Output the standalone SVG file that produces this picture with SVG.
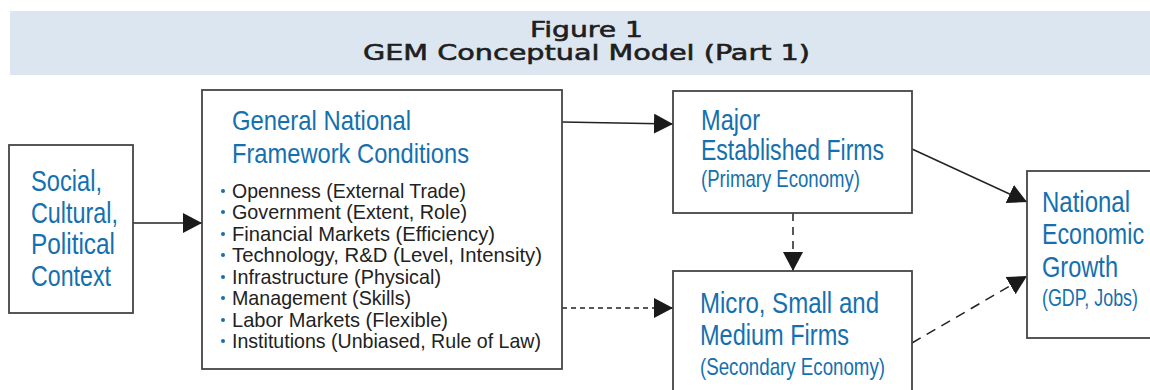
<svg xmlns="http://www.w3.org/2000/svg" width="1150" height="390" viewBox="0 0 1150 390">
<defs>
<style>
.box{fill:#fff;stroke:#454545;stroke-width:1.8}
.t{font-family:"Liberation Sans",Arial,sans-serif;fill:#1570ae}
.big{font-size:30px}
.mid{font-size:28px}
.sub{font-size:24px}
.li{font-family:"Liberation Sans",Arial,sans-serif;font-size:21px;fill:#222}
.dot{fill:#1570ae}
.title{font-family:"DejaVu Sans",sans-serif;font-size:22px;fill:#1e1e1e;stroke:#1e1e1e;stroke-width:0.6}
.c{fill:none;stroke:#222;stroke-width:1.5}
</style>
<marker id="ah" markerUnits="userSpaceOnUse" markerWidth="20" markerHeight="20" refX="19" refY="10" orient="auto" viewBox="0 0 20 20">
<path d="M0,0 L19,10 L0,20 z" fill="#1a1a1a"/>
</marker>
</defs>
<rect x="10" y="11" width="1140" height="64" fill="#dce6f0"/>
<g id="title">
<text class="title" x="530" y="37" textLength="113" lengthAdjust="spacingAndGlyphs">Figure 1</text>
<text class="title" x="363" y="60" textLength="447" lengthAdjust="spacingAndGlyphs">GEM Conceptual Model (Part 1)</text>
</g>
<g id="connectors">
<line class="c" x1="133" y1="223" x2="202" y2="223" marker-end="url(#ah)"/>
<line class="c" x1="562" y1="122" x2="673" y2="124" marker-end="url(#ah)"/>
<line class="c" x1="562" y1="308" x2="673" y2="308" stroke-dasharray="5,4" marker-end="url(#ah)"/>
<line class="c" x1="793" y1="213" x2="793" y2="271" stroke-dasharray="8,6" marker-end="url(#ah)"/>
<line class="c" x1="912" y1="149" x2="1027" y2="202" marker-end="url(#ah)"/>
<line class="c" x1="912" y1="343" x2="1027" y2="276" stroke-dasharray="10,7" marker-end="url(#ah)"/>
</g>
<g id="social">
<rect class="box" x="9" y="145" width="124" height="168"/>
<text class="t big" x="31" y="191" textLength="71" lengthAdjust="spacingAndGlyphs">Social,</text>
<text class="t big" x="31" y="223" textLength="87" lengthAdjust="spacingAndGlyphs">Cultural,</text>
<text class="t big" x="31" y="254" textLength="84" lengthAdjust="spacingAndGlyphs">Political</text>
<text class="t big" x="31" y="286" textLength="80" lengthAdjust="spacingAndGlyphs">Context</text>
</g>
<g id="framework">
<rect class="box" x="202" y="90" width="360" height="279"/>
<text class="t mid" x="232" y="130" textLength="179" lengthAdjust="spacingAndGlyphs">General National</text>
<text class="t mid" x="232" y="163" textLength="237" lengthAdjust="spacingAndGlyphs">Framework Conditions</text>
<g class="dot">
<circle cx="223" cy="191" r="2"/>
<circle cx="223" cy="212" r="2"/>
<circle cx="223" cy="234" r="2"/>
<circle cx="223" cy="255" r="2"/>
<circle cx="223" cy="277" r="2"/>
<circle cx="223" cy="298" r="2"/>
<circle cx="223" cy="320" r="2"/>
<circle cx="223" cy="341" r="2"/>
</g>
<text class="li" x="232" y="198" textLength="234" lengthAdjust="spacingAndGlyphs">Openness (External Trade)</text>
<text class="li" x="232" y="219" textLength="235" lengthAdjust="spacingAndGlyphs">Government (Extent, Role)</text>
<text class="li" x="232" y="241" textLength="263" lengthAdjust="spacingAndGlyphs">Financial Markets (Efficiency)</text>
<text class="li" x="232" y="262" textLength="310" lengthAdjust="spacingAndGlyphs">Technology, R&amp;D (Level, Intensity)</text>
<text class="li" x="232" y="284" textLength="209" lengthAdjust="spacingAndGlyphs">Infrastructure (Physical)</text>
<text class="li" x="232" y="305" textLength="179" lengthAdjust="spacingAndGlyphs">Management (Skills)</text>
<text class="li" x="232" y="327" textLength="216" lengthAdjust="spacingAndGlyphs">Labor Markets (Flexible)</text>
<text class="li" x="232" y="348" textLength="309" lengthAdjust="spacingAndGlyphs">Institutions (Unbiased, Rule of Law)</text>
</g>
<g id="major">
<rect class="box" x="673" y="91" width="239" height="122"/>
<text class="t big" x="701" y="130" textLength="59" lengthAdjust="spacingAndGlyphs">Major</text>
<text class="t big" x="701" y="160" textLength="183" lengthAdjust="spacingAndGlyphs">Established Firms</text>
<text class="t sub" x="701" y="187" textLength="159" lengthAdjust="spacingAndGlyphs">(Primary Economy)</text>
</g>
<g id="micro">
<rect class="box" x="673" y="271" width="239" height="130"/>
<text class="t big" x="700" y="313" textLength="179" lengthAdjust="spacingAndGlyphs">Micro, Small and</text>
<text class="t big" x="700" y="345" textLength="149" lengthAdjust="spacingAndGlyphs">Medium Firms</text>
<text class="t sub" x="700" y="375" textLength="185" lengthAdjust="spacingAndGlyphs">(Secondary Economy)</text>
</g>
<g id="growth">
<rect class="box" x="1027" y="171" width="130" height="167"/>
<text class="t big" x="1042" y="212" textLength="88" lengthAdjust="spacingAndGlyphs">National</text>
<text class="t big" x="1042" y="244" textLength="102" lengthAdjust="spacingAndGlyphs">Economic</text>
<text class="t big" x="1042" y="277" textLength="76" lengthAdjust="spacingAndGlyphs">Growth</text>
<text class="t sub" x="1042" y="306" textLength="96" lengthAdjust="spacingAndGlyphs">(GDP, Jobs)</text>
</g>
</svg>
